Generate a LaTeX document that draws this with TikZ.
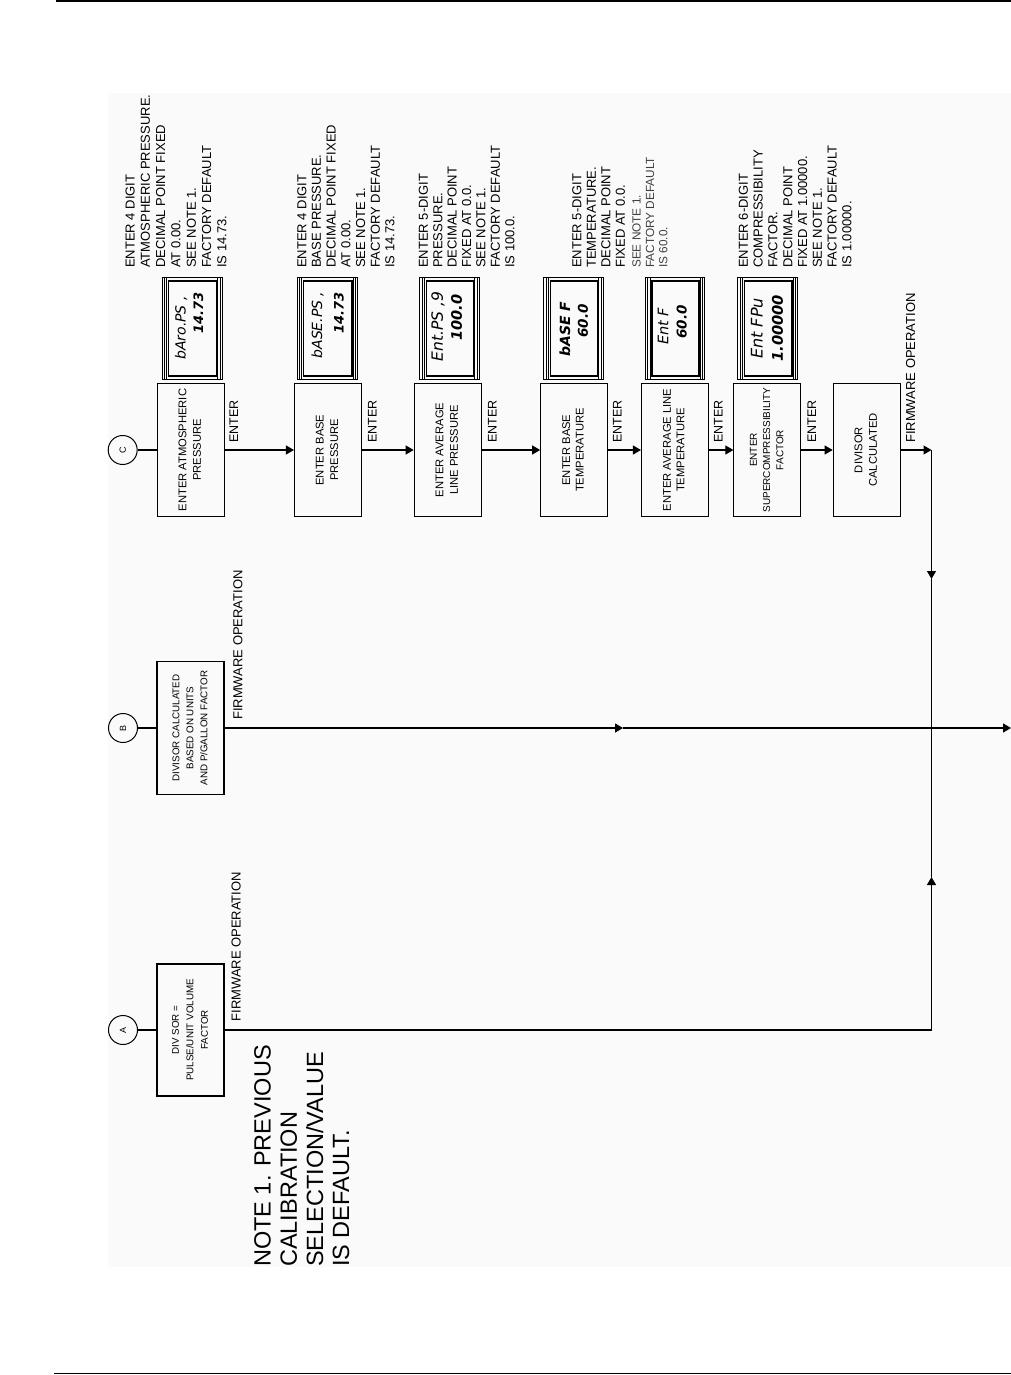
\documentclass[tikz,border=0pt]{standalone}
\usepackage{fontspec}
\setmainfont{Liberation Sans}
\newfontfamily\lcdf{DejaVu Sans}
\usepackage{graphicx}
\usetikzlibrary{arrows.meta,calc}

\newcommand\fsz[2]{\fontsize{#1}{#2}\selectfont}
\newcommand\boxtext[3]{\rotatebox{90}{\fsz{#1}{#2}\begin{tabular}{@{}c@{}}#3\end{tabular}}}

\tikzset{
  box/.style={draw, line width=1.1, minimum width=67, minimum height=133, inner sep=0},
  conn/.style={draw, circle, line width=1, minimum size=29, inner sep=0},
  arr/.style={-{Triangle[length=8pt,width=9pt]}},
  ln/.style={line width=1.1},
  note/.style={rotate=90, anchor=north west, inner sep=0, align=left},
  lbl/.style={rotate=90, anchor=base west, inner sep=0},
  lcdtxt/.style={rotate=90, inner sep=0},
}

\newcommand\lcd[3]{%
  \node[draw, line width=0.8, inner sep=0, minimum width={#3-#2}, minimum height=102, anchor=north west] (#1) at (#2,277) {};
  \draw[line width=1.4] ([xshift=7pt,yshift=-4pt]#1.north west) rectangle ([xshift=-6pt,yshift=4pt]#1.south east);
  \foreach \dd in {2.5,4.8}{
    \draw[line width=0.6] ([xshift=\dd pt]#1.north west) -- ([xshift=\dd pt]#1.south west);
    \draw[line width=0.6] ([xshift=-\dd pt]#1.north east) -- ([xshift=-\dd pt]#1.south east);
  }%
}

\begin{document}
\begin{tikzpicture}[x=1pt,y=-1pt]
\useasboundingbox (0,0) rectangle (1011,1375);
\fill[black!2] (108,93) rectangle (1011,1267);
\draw[line width=2.4] (56,1.2) -- (1011,1.2);
\draw[line width=1] (54,1373.7) -- (1011,1373.7);

% ---------- row C ----------
\node[conn] (cC) at (122.7,450) {\rotatebox{90}{\fsz{9}{9}C}};
\node[box] (b1) at (190.7,450) {\boxtext{11.2}{14.5}{ENTER ATMOSPHERIC\\PRESSURE}};
\node[box] (b2) at (328,450) {\boxtext{11.2}{14.5}{ENTER BASE\\PRESSURE}};
\node[box] (b3) at (447.7,450) {\boxtext{11.2}{14.5}{ENTER AVERAGE\\LINE PRESSURE}};
\node[box] (b4) at (574.2,450) {\boxtext{11.2}{13.5}{ENTER BASE\\TEMPERATURE}};
\node[box] (b5) at (675,450) {\boxtext{11.2}{13.5}{ENTER AVERAGE LINE\\TEMPERATURE}};
\node[box] (b6) at (767.4,450) {\boxtext{10}{13.3}{ENTER\\SUPERCOMPRESSIBILITY\\FACTOR}};
\node[box] (b7) at (866.7,450) {\boxtext{11.2}{14.5}{DIVISOR\\CALCULATED}};

\draw[ln] (cC.east) -- (b1.west);
\draw[ln,arr] (b1.east) -- (b2.west);
\draw[ln,arr] (b2.east) -- (b3.west);
\draw[ln,arr] (b3.east) -- (b4.west);
\draw[ln,arr] (b4.east) -- (b5.west);
\draw[ln,arr] (b5.east) -- (b6.west);
\draw[ln,arr] (b6.east) -- (b7.west);

\node[lbl, font=\fsz{12.5}{12.5}] (e1) at (238,443) {ENTER};
\node[lbl, font=\fsz{12.5}{12.5}] (e2) at (376.7,443) {ENTER};
\node[lbl, font=\fsz{12.5}{12.5}] (e3) at (496.7,443) {ENTER};
\node[lbl, font=\fsz{12.5}{12.5}] (e4) at (621.7,443) {ENTER};
\node[lbl, font=\fsz{12.5}{12.5}] (e5) at (722.7,443) {ENTER};
\node[lbl, font=\fsz{12.5}{12.5}] (e6) at (816,443) {ENTER};
\node[lbl, font=\fsz{13}{13}] (fwC) at (915,443) {FIRMWARE OPERATION};

% displays
\lcd{d1}{161.7}{221.7}
\lcd{d2}{296.7}{357.3}
\lcd{d3}{419.3}{478.7}
\lcd{d4}{543.3}{602.7}
\lcd{d5}{645}{704}
\lcd{d6}{737.3}{797.3}

\node[lcdtxt] (t1a) at (181,328) {\lcdf\itshape\fsz{14}{14}bAro.PS ,};
\node[lcdtxt] (t1b) at (198.3,313) {\lcdf\bfseries\itshape\fsz{13}{13}14.73};
\node[lcdtxt] (t2a) at (317.5,325) {\lcdf\itshape\fsz{14}{14}bASE.PS ,};
\node[lcdtxt] (t2b) at (339,313) {\lcdf\bfseries\itshape\fsz{13}{13}14.73};
\node[lcdtxt] (t3a) at (438,326.7) {\lcdf\itshape\fsz{15.5}{15.5}Ent.PS ,9};
\node[lcdtxt] (t3b) at (456.7,317.5) {\lcdf\bfseries\itshape\fsz{14.5}{14.5}100.0};
\node[lcdtxt] (t4a) at (565,329) {\lcdf\bfseries\itshape\fsz{14}{14}bASE F};
\node[lcdtxt] (t4b) at (583,321) {\lcdf\bfseries\itshape\fsz{13.5}{13.5}60.0};
\node[lcdtxt] (t5a) at (663,326.5) {\lcdf\itshape\fsz{14.5}{14.5}Ent F};
\node[lcdtxt] (t5b) at (681.7,322) {\lcdf\bfseries\itshape\fsz{13.5}{13.5}60.0};
\node[lcdtxt] (t6a) at (757,328.3) {\lcdf\itshape\fsz{16}{16}Ent FPu};
\node[lcdtxt] (t6b) at (777.5,328.3) {\lcdf\bfseries\itshape\fsz{14.7}{14.7}1.00000};

% annotations
\node[note, font={\fsz{13}{15.3}}] (a1) at (125.3,268) {ENTER 4 DIGIT\\ATMOSPHERIC PRESSURE.\\DECIMAL POINT FIXED\\AT 0.00.\\SEE NOTE 1.\\FACTORY DEFAULT\\IS 14.73.};
\node[note, font={\fsz{13}{14.7}}] (a2) at (297,268) {ENTER 4 DIGIT\\BASE PRESSURE.\\DECIMAL POINT FIXED\\AT 0.00.\\SEE NOTE 1.\\FACTORY DEFAULT\\IS 14.73.};
\node[note, font={\fsz{13}{14.4}}] (a3) at (418.6,268) {ENTER 5-DIGIT\\PRESSURE.\\DECIMAL POINT\\FIXED AT 0.0.\\SEE NOTE 1.\\FACTORY DEFAULT\\IS 100.0.};
\node[note, font={\fsz{13}{14.5}}] (a4) at (572,268) {ENTER 5-DIGIT\\TEMPERATURE.\\DECIMAL POINT\\FIXED AT 0.0.};
\node[note, font={\fsz{11.8}{13.3}}, text=black!75] (a4b) at (632.3,268) {SEE NOTE 1.\\FACTORY DEFAULT\\IS 60.0.};
\node[note, font={\fsz{13}{14.8}}] (a6) at (738.6,268) {ENTER 6-DIGIT\\COMPRESSIBILITY\\FACTOR.\\DECIMAL POINT\\FIXED AT 1.00000.\\SEE NOTE 1.\\FACTORY DEFAULT\\IS 1.00000.};

% ---------- row B ----------
\node[conn] (cB) at (123,728) {\rotatebox{90}{\fsz{9}{9}B}};
\node[box, minimum height=132.6] (bB) at (190.5,728) {\boxtext{9.8}{14}{DIVISOR CALCULATED\\BASED ON UNITS\\AND P/GALLON FACTOR}};
\node[lbl, font=\fsz{13}{13}] (fwB) at (242.4,720) {FIRMWARE OPERATION};

% ---------- row A ----------
\node[conn] (cA) at (123,1030) {\rotatebox{90}{\fsz{9}{9}A}};
\node[box, minimum height=132] (bA) at (190.5,1030) {\boxtext{9.8}{14.5}{DIV SOR =\\PULSE/UNIT VOLUME\\FACTOR}};
\node[lbl, font=\fsz{13}{13}] (fwA) at (240.7,1021.7) {FIRMWARE OPERATION};

\node[note, font={\fsz{23.5}{26.2}}] (note1) at (254,1267) {NOTE 1. PREVIOUS\\CALIBRATION\\SELECTION/VALUE\\IS DEFAULT.};

% ---------- connectors ----------
\coordinate (jC) at (931.5,450);
\coordinate (dnC) at (931.5,579);
\coordinate (jB) at (931.5,728);
\coordinate (upA) at (931.5,877);
\coordinate (jA) at (931.5,1030);
\coordinate (mB) at (623,728);
\coordinate (endB) at (1011,728);

\draw[ln,arr] (b7.east) -- (jC);
\draw[ln,arr] (jC) -- (dnC);
\draw[ln] (dnC) -- (jB);
\draw[ln] (cB.east) -- (bB.west);
\draw[ln,arr] (bB.east) -- (mB);
\draw[ln,arr] (mB) -- (endB);
\draw[ln] (cA.east) -- (bA.west);
\draw[ln] (bA.east) -- (jA);
\draw[ln,arr] (jA) -- (upA);
\draw[ln] (upA) -- (jB);
\end{tikzpicture}
\end{document}
